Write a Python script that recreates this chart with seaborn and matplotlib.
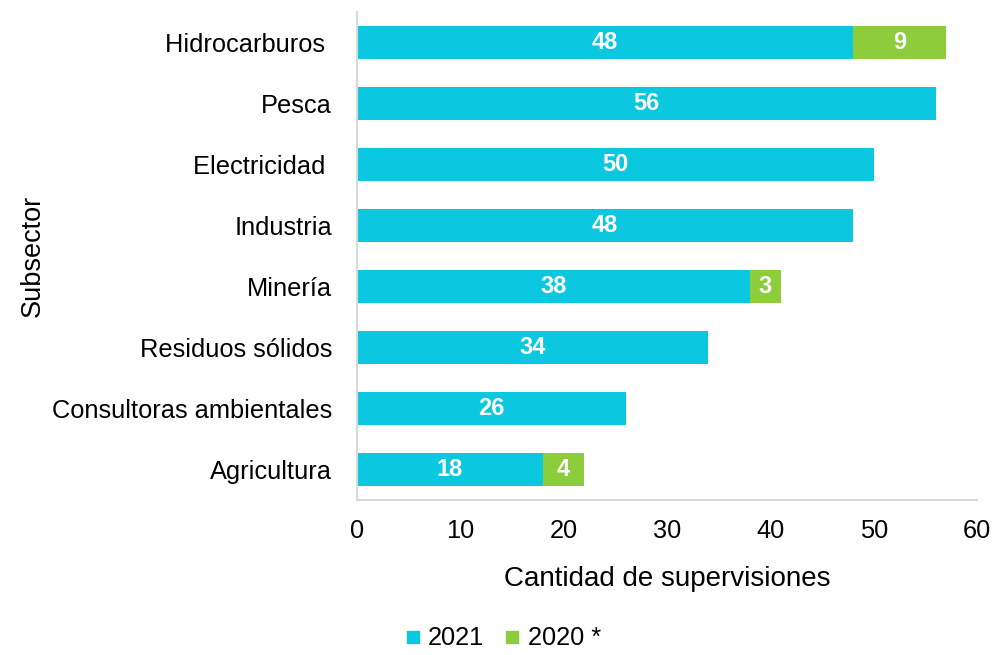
import matplotlib
matplotlib.use("Agg")
import matplotlib.pyplot as plt
import seaborn as sns
import pandas as pd
from matplotlib.lines import Line2D

subsectors = ["Hidrocarburos ", "Pesca", "Electricidad ", "Industria", "Minería",
              "Residuos sólidos", "Consultoras ambientales", "Agricultura"]
v2021 = [48, 56, 50, 48, 38, 34, 26, 18]
v2020 = [9, 0, 0, 0, 3, 0, 0, 4]
series_names = ["2021", "2020 *"]

c2021 = "#0BC8E0"
c2020 = "#8DCC3A"

sns.set_theme(style="white")
plt.rcParams["font.family"] = ["Liberation Sans", "DejaVu Sans"]
plt.rcParams["text.color"] = "black"
plt.rcParams["axes.labelcolor"] = "black"

df = pd.DataFrame({"Subsector": subsectors, "y2021": v2021, "y2020": v2020})
df["total"] = df["y2021"] + df["y2020"]

fig = plt.figure(figsize=(9.96, 6.55), dpi=100)
ax = fig.add_axes([0.3584, 0.2366, 0.6226, 0.7451])

sns.barplot(data=df, y="Subsector", x="total", color=c2020, orient="h",
            width=0.55, ax=ax, saturation=1, linewidth=0)
sns.barplot(data=df, y="Subsector", x="y2021", color=c2021, orient="h",
            width=0.55, ax=ax, saturation=1, linewidth=0)

green_cont = ax.containers[0]
cyan_cont = ax.containers[1]
ax.bar_label(cyan_cont, labels=[str(v) for v in v2021], label_type="center",
             color="white", fontsize=17, fontweight="bold")
for rect, a, b in zip(green_cont, v2021, v2020):
    if b > 0:
        ax.text(a + b / 2, rect.get_y() + rect.get_height() / 2, str(b),
                ha="center", va="center", color="white", fontsize=17,
                fontweight="bold")

ax.set_xlim(0, 60)
ax.set_ylim(7.5, -0.5)
ax.set_xticks(range(0, 61, 10))
ax.tick_params(axis="both", length=0, labelsize=18.3, colors="black")
ax.tick_params(axis="x", pad=14)
ax.tick_params(axis="y", pad=18)
ax.set_xlabel("Cantidad de supervisiones", fontsize=20, labelpad=16)
ax.set_ylabel("Subsector", fontsize=19.5, labelpad=4)

for s in ["top", "right"]:
    ax.spines[s].set_visible(False)
for s in ["left", "bottom"]:
    ax.spines[s].set_color("#D9D9D9")
    ax.spines[s].set_linewidth(1.5)

handles = [Line2D([0], [0], marker="s", linestyle="", markersize=9,
                  markerfacecolor=c, markeredgecolor=c) for c in (c2021, c2020)]
fig.legend(handles, series_names, loc="lower center", ncol=2, frameon=False,
           fontsize=18.3, bbox_to_anchor=(0.505, -0.028), handletextpad=0.3,
           handlelength=0.6, columnspacing=0.8, borderaxespad=0.5)

fig.savefig("out.png", dpi=100)
